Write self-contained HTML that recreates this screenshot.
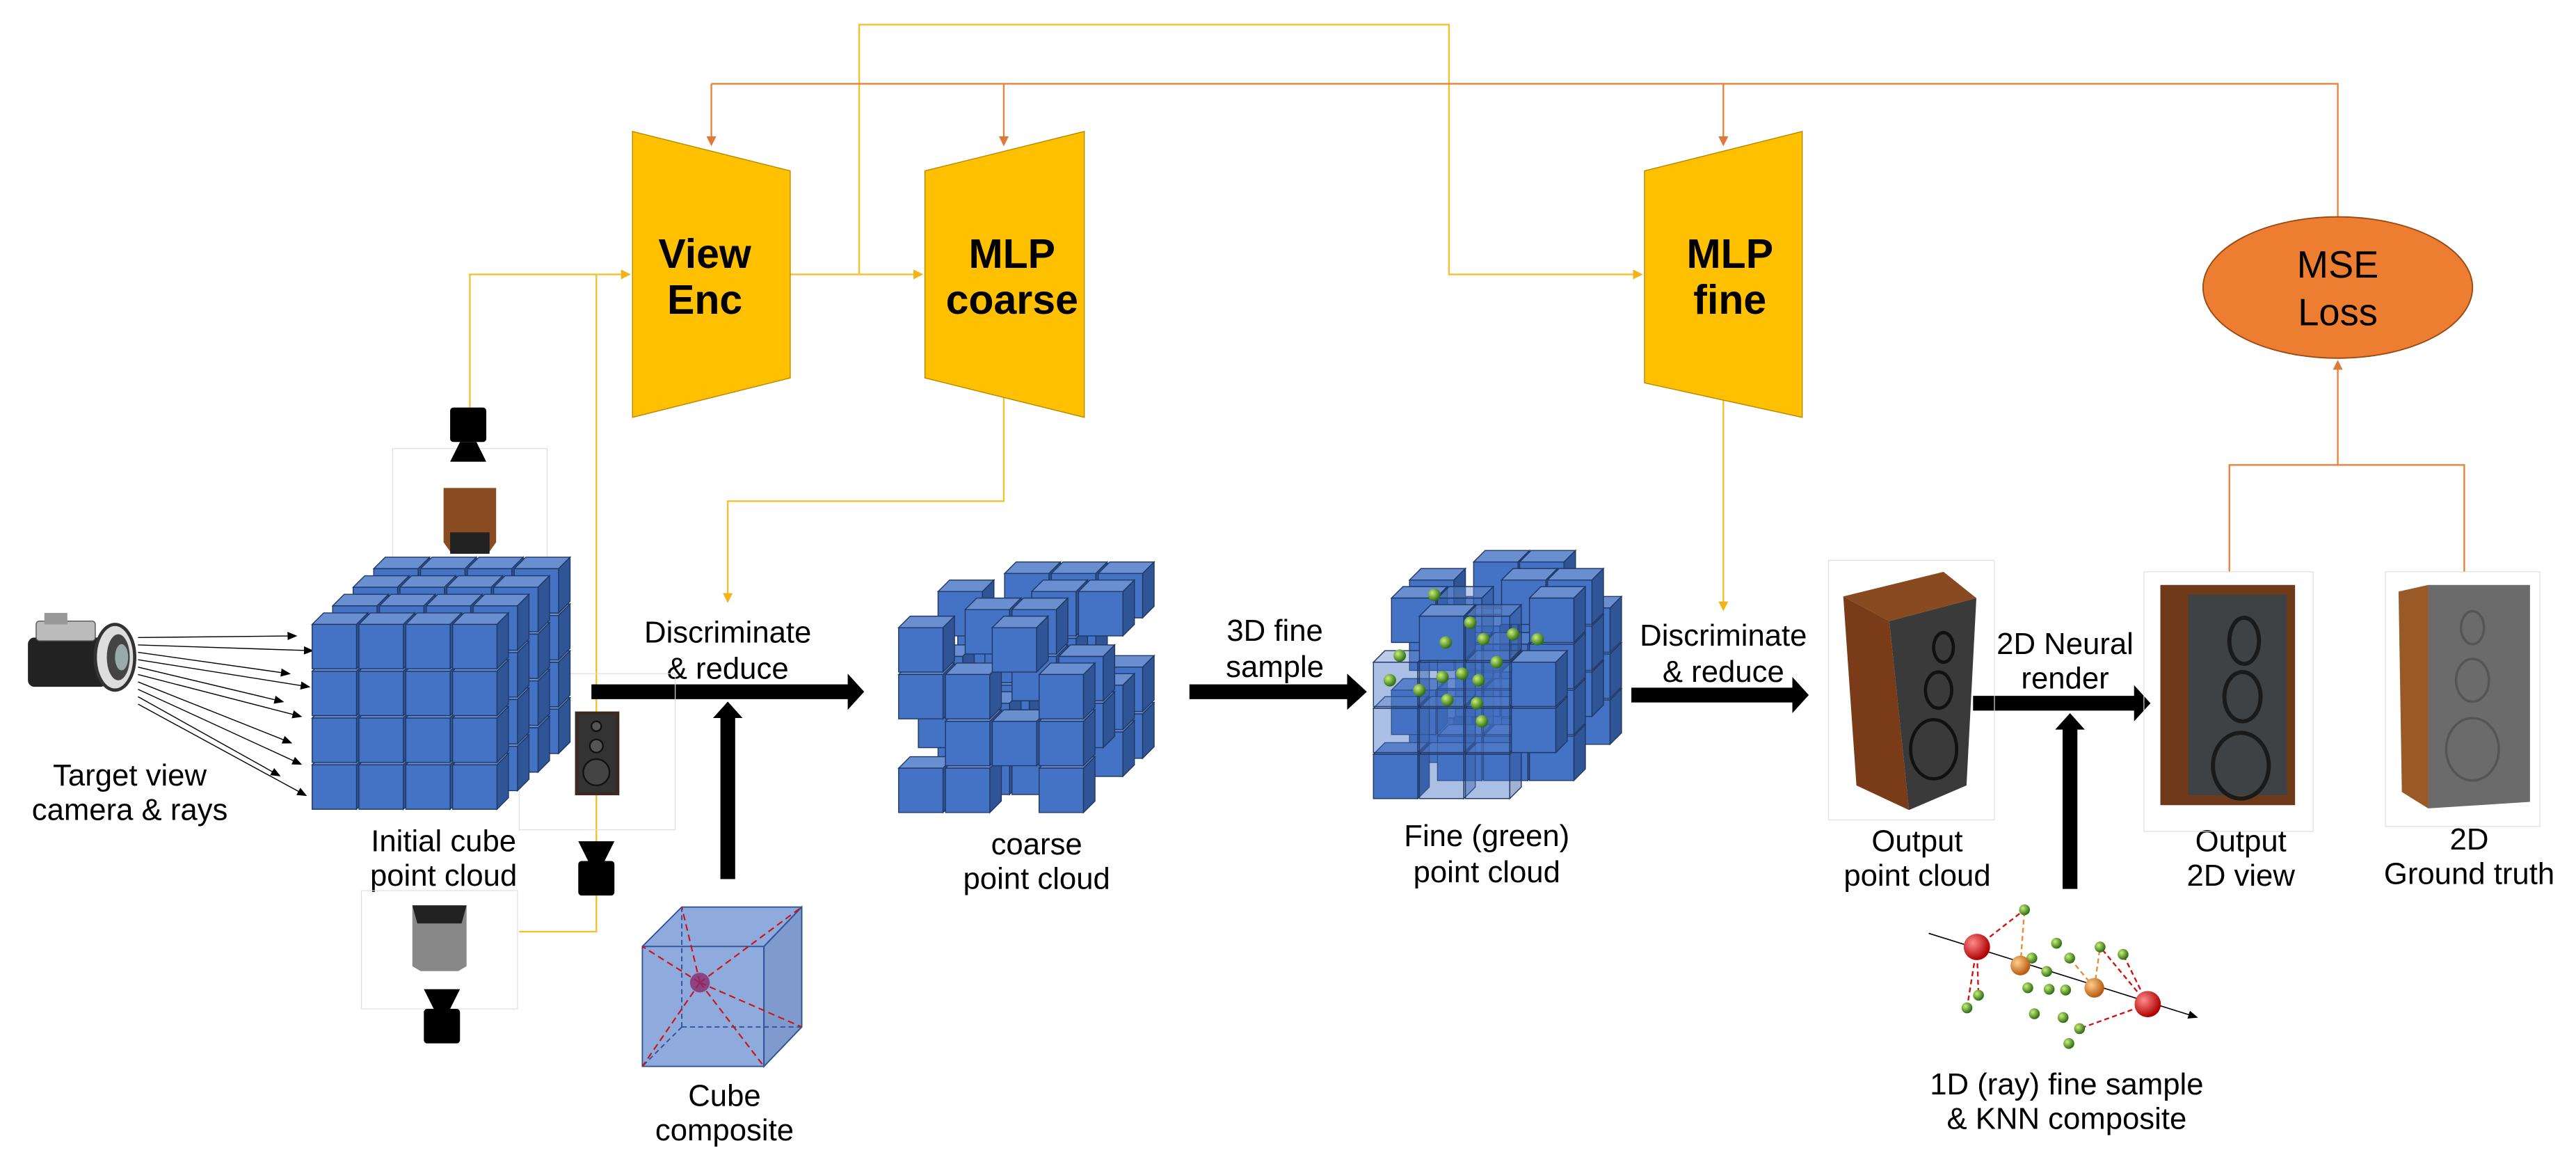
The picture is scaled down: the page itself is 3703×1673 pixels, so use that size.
<!DOCTYPE html>
<html><head><meta charset="utf-8"><style>
html,body{margin:0;padding:0;background:#fff;}
svg{display:block;}
text{font-family:"Liberation Sans",sans-serif;}
.lb{font-size:18.5px;fill:#000;text-anchor:middle;}
.bb{font-size:25px;font-weight:bold;fill:#000;text-anchor:middle;}
</style></head><body>
<svg id="s" width="3703" height="1673" viewBox="0 0 1568 708.4" preserveAspectRatio="none" xmlns="http://www.w3.org/2000/svg">
<defs>
<marker id="ay" markerWidth="6" markerHeight="6" refX="5" refY="3" orient="auto" markerUnits="userSpaceOnUse"><path d="M0,0 L6,3 L0,6 z" fill="#F2B418"/></marker>
<marker id="ao" markerWidth="6" markerHeight="6" refX="5" refY="3" orient="auto" markerUnits="userSpaceOnUse"><path d="M0,0 L6,3 L0,6 z" fill="#E0783A"/></marker>
<marker id="ab" markerWidth="6" markerHeight="5" refX="5" refY="2.5" orient="auto" markerUnits="userSpaceOnUse"><path d="M0,0 L6,2.5 L0,5 z" fill="#000"/></marker>
<radialGradient id="gr" cx="35%" cy="35%" r="65%"><stop offset="0" stop-color="#c9f07a"/><stop offset="1" stop-color="#2f6e12"/></radialGradient>
<radialGradient id="rr" cx="35%" cy="35%" r="65%"><stop offset="0" stop-color="#ff8a8a"/><stop offset="1" stop-color="#b00000"/></radialGradient>
<radialGradient id="or" cx="35%" cy="35%" r="65%"><stop offset="0" stop-color="#ffcf8f"/><stop offset="1" stop-color="#b85a10"/></radialGradient>
</defs>

<g fill="none" stroke="#F5C030" stroke-width="1">
<polyline points="523,167 523,15 882,15 882,167 999,167" marker-end="url(#ay)"/>
<polyline points="286,248 286,167 383,167" marker-end="url(#ay)"/>
<polyline points="363,167 363,567 316,567"/>
<polyline points="481,167 561,167" marker-end="url(#ay)"/>
<polyline points="611,242 611,305 443,305 443,366" marker-end="url(#ay)"/>
<polyline points="1049,242 1049,371" marker-end="url(#ay)"/>
</g>
<g fill="none" stroke="#E8823C" stroke-width="1">
<polyline points="433,51 1423,51 1423,132"/>
<polyline points="433,51 433,88" marker-end="url(#ao)"/>
<polyline points="611,51 611,88" marker-end="url(#ao)"/>
<polyline points="1049,51 1049,88" marker-end="url(#ao)"/>
<polyline points="1357,348 1357,283 1500,283 1500,348"/>
<polyline points="1423,283 1423,220" marker-end="url(#ao)"/>
</g>

<polygon points="385,80 481,104 481,230 385,254" fill="#FFC000" stroke="#b88a00" stroke-width="0.6"/>
<polygon points="563,104 660,80 660,254 563,230" fill="#FFC000" stroke="#b88a00" stroke-width="0.6"/>
<polygon points="1001,104 1097,80 1097,254 1001,233" fill="#FFC000" stroke="#b88a00" stroke-width="0.6"/>
<text class="bb" x="429" y="163">View</text><text class="bb" x="429" y="191">Enc</text>
<text class="bb" x="616" y="163">MLP</text><text class="bb" x="616" y="191">coarse</text>
<text class="bb" x="1053" y="163">MLP</text><text class="bb" x="1053" y="191">fine</text>

<ellipse cx="1423" cy="175" rx="82" ry="43" fill="#ED7D31" stroke="#9a4a14" stroke-width="0.8"/>
<text x="1423" y="169" font-size="23" text-anchor="middle">MSE</text>
<text x="1423" y="198" font-size="23" text-anchor="middle">Loss</text>

<g fill="#000">
<polygon points="360,416.5 516,416.5 516,410 526,421 516,432 516,425.5 360,425.5"/>
<polygon points="438.5,535 438.5,437 434,437 443,427 452,437 447.5,437 447.5,535"/>
<polygon points="724,416.5 820,416.5 820,410 832,421 820,432 820,425.5 724,425.5"/>
<polygon points="993,418.5 1091,418.5 1091,412 1101,423 1091,434 1091,427.5 993,427.5"/>
<polygon points="1201,423.5 1299,423.5 1299,417 1309,428 1299,439 1299,432.5 1201,432.5"/>
<polygon points="1255.5,541 1255.5,444 1251,444 1260,434 1269,444 1264.5,444 1264.5,541"/>
</g>

<text class="lb" x="79" y="478">Target view</text>
<text class="lb" x="79" y="499">camera &amp; rays</text>
<text class="lb" x="270" y="518">Initial cube</text>
<text class="lb" x="270" y="539">point cloud</text>
<text class="lb" x="443" y="391">Discriminate</text>
<text class="lb" x="443" y="413">&amp; reduce</text>
<text class="lb" x="441" y="673">Cube</text>
<text class="lb" x="441" y="694">composite</text>
<text class="lb" x="631" y="520">coarse</text>
<text class="lb" x="631" y="541">point cloud</text>
<text class="lb" x="776" y="390">3D fine</text>
<text class="lb" x="776" y="412">sample</text>
<text class="lb" x="905" y="515">Fine (green)</text>
<text class="lb" x="905" y="537">point cloud</text>
<text class="lb" x="1049" y="393">Discriminate</text>
<text class="lb" x="1049" y="415">&amp; reduce</text>
<text class="lb" x="1167" y="518">Output</text>
<text class="lb" x="1167" y="539">point cloud</text>
<text class="lb" x="1257" y="398">2D Neural</text>
<text class="lb" x="1257" y="419">render</text>
<text class="lb" x="1364" y="518">Output</text>
<text class="lb" x="1364" y="539">2D view</text>
<text class="lb" x="1503" y="517">2D</text>
<text class="lb" x="1503" y="538">Ground truth</text>
<text class="lb" x="1258" y="666">1D (ray) fine sample</text>
<text class="lb" x="1258" y="687">&amp; KNN composite</text>

<g>
<rect x="17" y="388" width="48" height="30" rx="4" fill="#222"/>
<rect x="22" y="378" width="36" height="12" rx="2" fill="#bbb" stroke="#555" stroke-width="0.6"/>
<rect x="27" y="373" width="14" height="7" fill="#999"/>
<ellipse cx="70" cy="400" rx="12" ry="20" fill="#ddd" stroke="#333" stroke-width="2"/>
<ellipse cx="72" cy="400" rx="7" ry="14" fill="#444"/>
<ellipse cx="74" cy="400" rx="4" ry="8" fill="#9aa"/>
</g>
<g id="rays" stroke="#000" stroke-width="0.6" fill="none"></g>

<g fill="none" stroke="#ddd" stroke-width="0.5">
<rect x="239" y="273" width="94" height="73"/>
<rect x="316" y="410" width="95" height="95"/>
<rect x="220" y="542" width="95" height="72"/>
<rect x="1113" y="341" width="101" height="158"/>
<rect x="1305" y="348" width="103" height="158"/>
<rect x="1452" y="348" width="94" height="155"/>
</g>
<g fill="#000">
<rect x="274" y="248" width="22" height="21" rx="2"/><polygon points="280,269 290,269 296,281 274,281"/>
<rect x="352" y="524" width="22" height="21" rx="2"/><polygon points="358,524 368,524 374,512 352,512"/>
<rect x="258" y="614" width="22" height="21" rx="2"/><polygon points="264,614 274,614 280,602 258,602"/>
</g>
<g>
<polygon points="270,297 302,297 302,330 297,337 275,337 270,330" fill="#8a4a22"/>
<rect x="274" y="324" width="24" height="13" fill="#222"/>
<rect x="350" y="433" width="27" height="51" fill="#3a2a20"/>
<rect x="352" y="435" width="23" height="47" fill="#333"/>
<circle cx="363" cy="442" r="3" fill="#555" stroke="#111"/><circle cx="363" cy="454" r="4" fill="#555" stroke="#111"/><circle cx="363" cy="470" r="8" fill="#444" stroke="#111"/>
<polygon points="251,551 284,551 284,588 279,591 256,591 251,588" fill="#888"/>
<polygon points="251,551 284,551 281,562 254,562" fill="#222"/>
</g>

<g stroke="#2F5597" stroke-width="0.8">
<polygon points="391,576 415,552 488,552 488,625 465,649 391,649" fill="#8FAADC"/>
<polygon points="465,576 488,552 488,625 465,649" fill="#7F9ACC"/>
<line x1="391" y1="576" x2="465" y2="576"/><line x1="465" y1="576" x2="465" y2="649"/><line x1="465" y1="576" x2="488" y2="552"/>
<line x1="415" y1="552" x2="415" y2="625" stroke-dasharray="3,2"/><line x1="415" y1="625" x2="488" y2="625" stroke-dasharray="3,2"/><line x1="415" y1="625" x2="391" y2="649" stroke-dasharray="3,2"/>
</g>
<g stroke="#d01010" stroke-width="0.9" stroke-dasharray="4,2.5" fill="none">
<line x1="426" y1="598" x2="391" y2="649"/><line x1="426" y1="598" x2="488" y2="552"/><line x1="426" y1="598" x2="415" y2="552"/><line x1="426" y1="598" x2="465" y2="649"/><line x1="426" y1="598" x2="488" y2="625"/><line x1="426" y1="598" x2="391" y2="576"/>
</g>
<circle cx="426" cy="598" r="6" fill="#8a2a6a" opacity="0.8"/>

<g id="cubes"></g>

<polygon points="1122,363 1183,348 1203,364 1150,378" fill="#8a4a20"/>
<polygon points="1122,363 1150,378 1162,493 1130,478" fill="#7a3c18"/>
<polygon points="1150,378 1203,364 1197,478 1162,493" fill="#3a3a3a"/>
<g fill="none" stroke="#111" stroke-width="2">
<ellipse cx="1183" cy="394" rx="6" ry="9"/><ellipse cx="1180" cy="420" rx="8" ry="11"/><ellipse cx="1177" cy="456" rx="14" ry="18"/>
</g>
<rect x="1315" y="356" width="82" height="134" fill="#6e3a1a"/>
<rect x="1332" y="362" width="60" height="122" fill="#3e4244"/>
<g fill="none" stroke="#1a1a1a" stroke-width="2.5">
<ellipse cx="1366" cy="390" rx="9" ry="14"/><ellipse cx="1365" cy="424" rx="11" ry="15"/><ellipse cx="1364" cy="466" rx="17" ry="20"/>
</g>
<polygon points="1460,360 1478,356 1478,492 1462,482" fill="#9a5a28"/>
<polygon points="1478,356 1540,356 1540,488 1478,492" fill="#6b6b6b"/>
<g fill="none" stroke="#555" stroke-width="1.5">
<ellipse cx="1505" cy="382" rx="7" ry="10"/><ellipse cx="1505" cy="414" rx="10" ry="13"/><ellipse cx="1505" cy="456" rx="16" ry="19"/>
</g>

<line x1="1174" y1="568" x2="1337" y2="619" stroke="#000" stroke-width="0.7" marker-end="url(#ab)"/>
<g id="knn"></g>
</svg>
<script>
var NS="http://www.w3.org/2000/svg";
function el(p,t,a){var e=document.createElementNS(NS,t);for(var k in a)e.setAttribute(k,a[k]);p.appendChild(e);return e;}
var rays=document.getElementById('rays');
var ends=[[180,387],[190,396],[176,410],[188,418],[172,427],[183,436],[177,452],[183,465],[170,472],[186,484]];
ends.forEach(function(e,i){el(rays,'line',{x1:84,y1:388+i*4.5,x2:e[0],y2:e[1],'marker-end':'url(#ab)'});});
var g=document.getElementById('cubes');
function cube(x,y,s,d,op){
 var sw={stroke:'#1F3864','stroke-width':0.6};
 function P(pts,f){var a={points:pts.map(function(p){return p.join(',')}).join(' '),fill:f};for(var k in sw)a[k]=sw[k];if(op)a['fill-opacity']=op;el(g,'polygon',a);}
 P([[x,y],[x+d,y-d],[x+s+d,y-d],[x+s,y]],'#6A8FD0');
 P([[x+s,y],[x+s+d,y-d],[x+s+d,y+s-d],[x+s,y+s]],'#2F5597');
 P([[x,y],[x+s,y],[x+s,y+s],[x,y+s]],'#4472C4');
}
function block(ox,oy,sp,s,d,dx,dy,occ,op){
 for(var k=3;k>=0;k--)for(var r=3;r>=0;r--)for(var c=0;c<4;c++){
  var o=occ?occ(k,r,c):1; if(!o)continue;
  cube(ox+c*sp+k*dx,oy+r*sp-k*dy,s,d,o===2?0.45:op);
 }
}
block(190,380,28.5,27,7,12.5,11.3,null);
var cm=[
 [[1,0,1,0],[1,1,0,1],[0,1,1,1],[1,1,0,1]],
 [[0,1,1,0],[1,0,1,1],[1,1,0,1],[0,1,1,0]],
 [[1,0,1,1],[0,1,1,0],[1,1,0,1],[1,0,1,1]],
 [[0,1,1,1],[1,1,1,0],[0,1,1,1],[1,1,0,1]]];
block(547,382,28.5,27,7,12,11,function(k,r,c){return cm[k][r][c];});
var fm=[
 [[0,1,2,0],[2,2,2,1],[2,2,2,1],[1,2,2,0]],
 [[1,2,0,1],[0,2,2,1],[1,2,2,1],[0,1,1,1]],
 [[1,0,1,1],[1,1,0,1],[0,1,1,1],[1,0,1,0]],
 [[0,1,1,0],[1,1,1,1],[0,1,1,1],[1,1,0,1]]];
block(836,375,28,27,7,11,11,function(k,r,c){return fm[k][r][c];});
var gd=[[873,362],[895,379],[880,391],[903,389],[921,386],[936,389],[846,414],[878,412],[890,410],[900,414],[881,426],[899,428],[902,439],[864,420],[852,399],[911,403]];
gd.forEach(function(p){el(g,'circle',{cx:p[0],cy:p[1],r:3.8,fill:'url(#gr)'});});
var k=document.getElementById('knn');
function Z(x,y){return [783.3+x*0.5,y*0.452];}
var greens=[[898,1225],[907,1290],[937,1270],[953,1290],[990,1275],[1018,1285],[925,1308],[902,1330],[928,1332],[948,1333],[842,1340],[828,1357],[910,1365],[945,1370],[965,1385],[952,1405]].map(function(p){return Z(p[0],p[1]);});
var r1=Z(840,1275),r2=Z(1048,1352),o1=Z(893,1300),o2=Z(983,1330);
function dl(a,b,c){el(k,'line',{x1:a[0],y1:a[1],x2:b[0],y2:b[1],stroke:c,'stroke-width':1,'stroke-dasharray':'3,2'});}
dl(r1,greens[0],'#d01010');dl(r1,greens[10],'#d01010');dl(r1,greens[11],'#d01010');
dl(r2,greens[5],'#d01010');dl(r2,greens[14],'#d01010');dl(r2,greens[4],'#d01010');
dl(o1,greens[0],'#f08a30');dl(o1,greens[1],'#f08a30');dl(o2,greens[4],'#f08a30');dl(o2,greens[3],'#f08a30');
greens.forEach(function(p){el(k,'circle',{cx:p[0],cy:p[1],r:3.3,fill:'url(#gr)'});});
el(k,'circle',{cx:r1[0],cy:r1[1],r:8,fill:'url(#rr)'});
el(k,'circle',{cx:r2[0],cy:r2[1],r:8,fill:'url(#rr)'});
el(k,'circle',{cx:o1[0],cy:o1[1],r:6,fill:'url(#or)'});
el(k,'circle',{cx:o2[0],cy:o2[1],r:6,fill:'url(#or)'});
</script>
</body></html>
